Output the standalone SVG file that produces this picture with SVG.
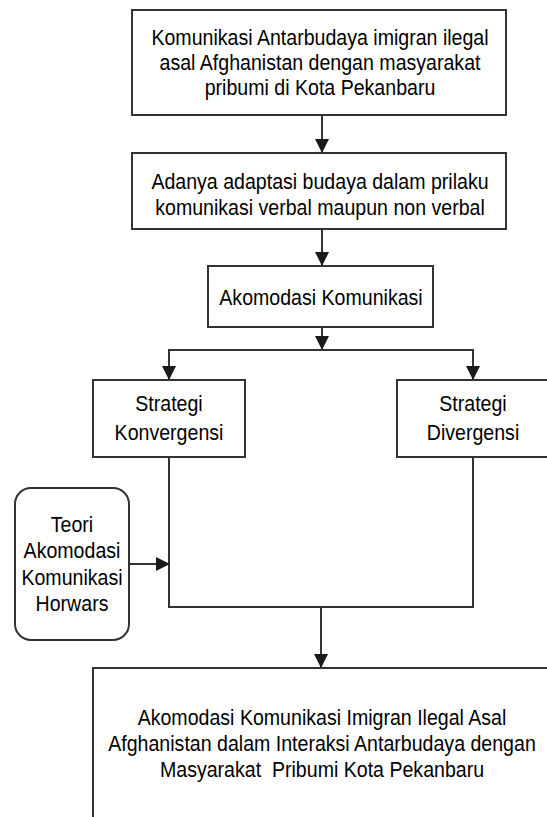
<svg xmlns="http://www.w3.org/2000/svg" width="547" height="817" viewBox="0 0 547 817">
  <style>
    .box { fill: #ffffff; stroke: #333333; stroke-width: 2; }
    .lbl { font-family: "Liberation Sans", Arial, sans-serif; font-size: 22px; fill: #000000; text-anchor: middle; }
    .conn { fill: none; stroke: #333333; stroke-width: 2; }
    .arr { marker-end: url(#ah); }
  </style>
  <defs>
    <marker id="ah" markerUnits="userSpaceOnUse" markerWidth="14" markerHeight="14" viewBox="0 0 12 12" refX="12" refY="6" orient="auto">
      <path d="M0,0 L12,6 L0,12 z" fill="#1a1a1a"/>
    </marker>
  </defs>
  <rect width="547" height="817" fill="#ffffff"/>

  <g id="connectors">
    <line class="conn arr" x1="322" y1="115" x2="322" y2="153"/>
    <line class="conn arr" x1="322" y1="229" x2="322" y2="266"/>
    <line class="conn arr" x1="322" y1="327" x2="322" y2="350"/>
    <polyline class="conn" points="169,380 169,350 473,350 473,380"/>
    <line class="conn arr" x1="169" y1="350" x2="169" y2="380"/>
    <line class="conn arr" x1="473" y1="350" x2="473" y2="380"/>
    <polyline class="conn" points="169,457 169,607 473,607 473,457"/>
    <line class="conn arr" x1="129" y1="564" x2="170" y2="564"/>
    <line class="conn arr" x1="321" y1="607" x2="321" y2="668"/>
  </g>

  <g id="node-komunikasi">
    <rect class="box" x="132" y="10" width="374" height="105"/>
    <text class="lbl" transform="translate(320 45) scale(0.89 1)">Komunikasi Antarbudaya imigran ilegal</text>
    <text class="lbl" transform="translate(320 70) scale(0.89 1)">asal Afghanistan dengan masyarakat</text>
    <text class="lbl" transform="translate(320 95) scale(0.89 1)">pribumi di Kota Pekanbaru</text>
  </g>

  <g id="node-adaptasi">
    <rect class="box" x="132" y="153" width="374" height="76"/>
    <text class="lbl" transform="translate(320 189) scale(0.89 1)">Adanya adaptasi budaya dalam prilaku</text>
    <text class="lbl" transform="translate(320 215) scale(0.89 1)">komunikasi verbal maupun non verbal</text>
  </g>

  <g id="node-akomodasi">
    <rect class="box" x="208" y="266" width="225" height="61"/>
    <text class="lbl" transform="translate(321 305) scale(0.89 1)">Akomodasi Komunikasi</text>
  </g>

  <g id="node-konvergensi">
    <rect class="box" x="93" y="380" width="152" height="77"/>
    <text class="lbl" transform="translate(169 411) scale(0.89 1)">Strategi</text>
    <text class="lbl" transform="translate(169 440) scale(0.89 1)">Konvergensi</text>
  </g>

  <g id="node-divergensi">
    <rect class="box" x="397" y="380" width="152" height="77"/>
    <text class="lbl" transform="translate(473 411) scale(0.89 1)">Strategi</text>
    <text class="lbl" transform="translate(473 440) scale(0.89 1)">Divergensi</text>
  </g>

  <g id="node-teori">
    <rect class="box" x="15" y="488" width="114" height="152" rx="16" ry="16"/>
    <text class="lbl" transform="translate(72 532) scale(0.89 1)">Teori</text>
    <text class="lbl" transform="translate(72 558) scale(0.89 1)">Akomodasi</text>
    <text class="lbl" transform="translate(72 585) scale(0.89 1)">Komunikasi</text>
    <text class="lbl" transform="translate(72 611) scale(0.89 1)">Horwars</text>
  </g>

  <g id="node-hasil">
    <rect class="box" x="93" y="668" width="470" height="200"/>
    <text class="lbl" transform="translate(322 725) scale(0.89 1)">Akomodasi Komunikasi Imigran Ilegal Asal</text>
    <text class="lbl" transform="translate(322 751) scale(0.89 1)">Afghanistan dalam Interaksi Antarbudaya dengan</text>
    <text class="lbl" xml:space="preserve" style="white-space:pre" transform="translate(322 777) scale(0.89 1)">Masyarakat  Pribumi Kota Pekanbaru</text>
  </g>
</svg>
